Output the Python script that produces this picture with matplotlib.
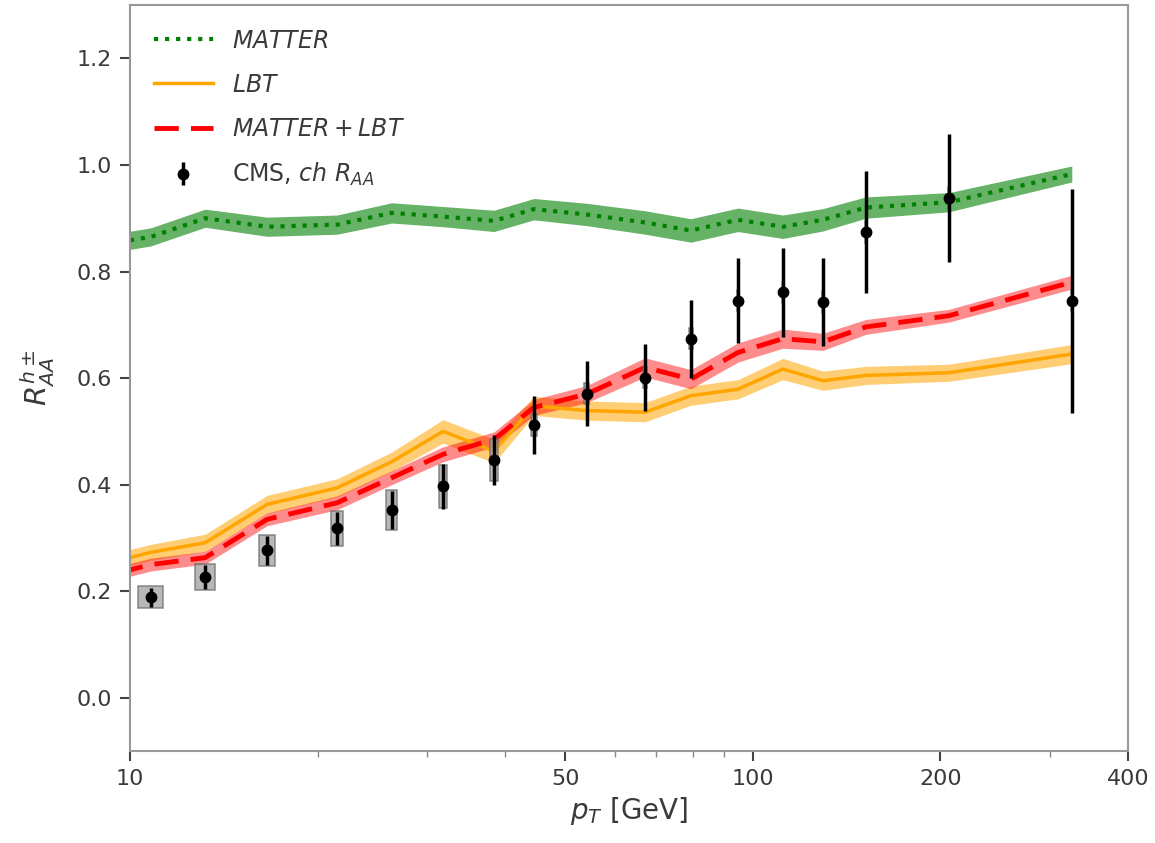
import matplotlib
matplotlib.use("Agg")
import matplotlib.pyplot as plt
from matplotlib.patches import Rectangle
from matplotlib.ticker import FixedLocator, NullFormatter, FixedFormatter

# CMS charged hadron R_AA
cms_pt = [10.8, 13.2, 16.6, 21.5, 26.3, 31.8, 38.4, 44.5, 54.1, 67.1, 79.5, 94.6, 111.7, 129.5, 151.8, 206.3, 325.0]
cms_raa = [0.189, 0.227, 0.277, 0.318, 0.352, 0.397, 0.446, 0.512, 0.571, 0.601, 0.674, 0.745, 0.761, 0.743, 0.874, 0.938, 0.745]
cms_stat = [0.018, 0.022, 0.027, 0.031, 0.036, 0.042, 0.047, 0.054, 0.061, 0.063, 0.073, 0.080, 0.083, 0.083, 0.115, 0.120, 0.210]
cms_sys = [0.021, 0.024, 0.029, 0.033, 0.038, 0.040, 0.040, 0.020, 0.020, 0.020, 0.020, 0.020, 0.020, 0.020, 0.020, 0.020, 0.020]

# theory curves (same pT grid, plus one point below the axis edge)
th_pt = [9.6] + cms_pt
matter = [0.855, 0.865, 0.900, 0.884, 0.888, 0.910, 0.903, 0.895, 0.917, 0.907, 0.892, 0.877, 0.897, 0.884, 0.897, 0.920, 0.930, 0.983]
matter_err = [0.017, 0.017, 0.017, 0.018, 0.018, 0.019, 0.019, 0.020, 0.020, 0.021, 0.022, 0.022, 0.022, 0.022, 0.021, 0.020, 0.018, 0.015]
lbt = [0.258, 0.273, 0.291, 0.363, 0.394, 0.443, 0.500, 0.463, 0.548, 0.539, 0.536, 0.567, 0.579, 0.617, 0.595, 0.605, 0.610, 0.645]
lbt_err = [0.015, 0.015, 0.016, 0.017, 0.017, 0.018, 0.022, 0.022, 0.018, 0.018, 0.018, 0.018, 0.018, 0.020, 0.018, 0.017, 0.016, 0.018]
mlbt = [0.235, 0.250, 0.263, 0.335, 0.366, 0.413, 0.457, 0.485, 0.545, 0.570, 0.620, 0.598, 0.648, 0.674, 0.668, 0.696, 0.717, 0.780]
mlbt_err = [0.012, 0.012, 0.012, 0.012, 0.013, 0.013, 0.014, 0.014, 0.015, 0.016, 0.018, 0.018, 0.018, 0.018, 0.016, 0.014, 0.012, 0.013]

xticks = [10, 50, 100, 200, 400]
yticks = [0.0, 0.2, 0.4, 0.6, 0.8, 1.0, 1.2]

txt = '#3a3a3a'
fig = plt.figure(figsize=(11.55, 8.43), dpi=100)
ax = fig.add_axes([0.1126, 0.109, 0.864, 0.885])

def band(y, e):
    return [a - b for a, b in zip(y, e)], [a + b for a, b in zip(y, e)]

lo, hi = band(matter, matter_err)
ax.fill_between(th_pt, lo, hi, color='green', alpha=0.6, lw=0)
lo, hi = band(lbt, lbt_err)
ax.fill_between(th_pt, lo, hi, color='orange', alpha=0.55, lw=0)
lo, hi = band(mlbt, mlbt_err)
ax.fill_between(th_pt, lo, hi, color='red', alpha=0.45, lw=0)

ax.plot(th_pt, matter, ':', color='green', lw=3, label='$MATTER$')
ax.plot(th_pt, lbt, '-', color='orange', lw=2.5, label='$LBT$')
ax.plot(th_pt, mlbt, '--', color='red', lw=3.5, dashes=(5, 2.5), label='$MATTER+LBT$')

for x, y, s in zip(cms_pt, cms_raa, cms_sys):
    ax.add_patch(Rectangle((x - 0.5, y - s), 1.0, 2 * s, facecolor='#9a9a9a',
                           edgecolor='#6a6a6a', alpha=0.7, lw=1.2, zorder=4))
ax.errorbar(cms_pt, cms_raa, yerr=cms_stat, fmt='o', color='black', ms=7.5,
            elinewidth=2.5, capsize=0, zorder=5, label='CMS, $ch\\ R_{AA}$')

ax.set_xscale('log')
ax.set_xlim(10, 400)
ax.set_ylim(-0.1, 1.3)
ax.xaxis.set_major_locator(FixedLocator(xticks))
ax.xaxis.set_major_formatter(FixedFormatter([str(t) for t in xticks]))
ax.xaxis.set_minor_formatter(NullFormatter())
ax.set_yticks(yticks)
ax.set_yticklabels(['%.1f' % t for t in yticks])

for sp in ax.spines.values():
    sp.set_color('#999999')
    sp.set_linewidth(1.5)
ax.tick_params(which='major', direction='out', length=7, width=1.5, color='#444444',
               labelsize=16, labelcolor=txt, pad=6)
ax.tick_params(which='minor', direction='out', length=4, width=1, color='#888888')

ax.set_xlabel('$p_T$ [GeV]', fontsize=20, color=txt)
ax.set_ylabel('$R^{h\\pm}_{AA}$', fontsize=21, color=txt, labelpad=14)

leg = ax.legend(loc='upper left', frameon=False, fontsize=17, handlelength=2.5,
                labelspacing=0.85, borderaxespad=0.6)
for t in leg.get_texts():
    t.set_color(txt)

fig.savefig('out.png', dpi=100)
